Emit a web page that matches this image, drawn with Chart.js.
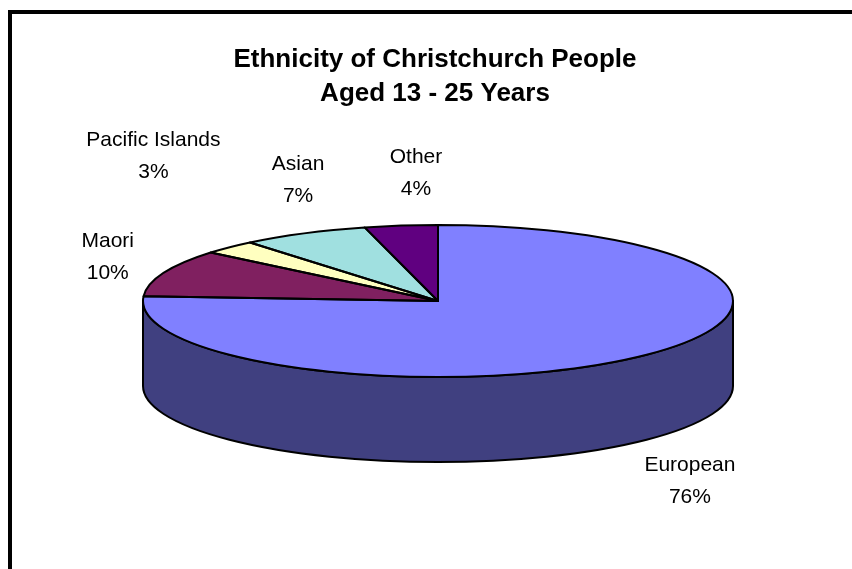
<!DOCTYPE html>
<html lang="en">
<head>
<meta charset="UTF-8">
<title>Ethnicity of Christchurch People</title>
<script src="https://cdn.jsdelivr.net/npm/chart.js"></script>
<style>
  body { margin: 0; background: #fff; }
  canvas { display: block; }
</style>
</head>
<body>
<canvas id="grafico" width="852" height="569"></canvas>
<script>
const categories = ['European', 'Maori', 'Pacific Islands', 'Asian', 'Other'];
const shares = [76, 10, 3, 7, 4];
const titleLines = ['Ethnicity of Christchurch People', 'Aged 13 - 25 Years'];

const topColors = ['#8080ff', '#802060', '#ffffc0', '#a0e0e0', '#600080'];
const sideColors = ['#404080', '#401030', '#808060', '#507070', '#300040'];

// the flat Chart.js pie is projected onto this tilted disc
const disc = { x: 438, y: 301, rx: 295, ry: 76, depth: 85 };
// label offsets from the rim point in the middle of each slice
const labelNudge = [[50, 40], [-56, -16], [-76, -91], [-6, -53], [15, -52]];

const FONT = "'Liberation Sans', Arial, sans-serif";

function project(ctx, arc) {
  ctx.translate(disc.x, disc.y);
  ctx.scale(disc.rx / arc.outerRadius, disc.ry / arc.outerRadius);
  ctx.translate(-arc.x, -arc.y);
}

const frame = {
  id: 'frame',
  beforeDraw(chart) {
    const ctx = chart.ctx;
    ctx.save();
    ctx.fillStyle = '#fff';
    ctx.fillRect(0, 0, chart.width, chart.height);
    ctx.lineWidth = 4;
    ctx.strokeStyle = '#000';
    ctx.strokeRect(10, 12, chart.width + 20, chart.height + 20);
    ctx.restore();
  }
};

const pie3d = {
  id: 'pie3d',
  beforeDatasetsDraw(chart) {
    const ctx = chart.ctx;
    const arcs = chart.getDatasetMeta(0).data;
    // side wall, only the part facing us (angles 0..PI)
    ctx.save();
    ctx.lineWidth = 2;
    ctx.strokeStyle = '#000';
    ctx.lineJoin = 'round';
    arcs.forEach((arc, i) => {
      for (let k = -1; k <= 1; k++) {
        const a1 = Math.max(arc.startAngle + k * 2 * Math.PI, 0);
        const a2 = Math.min(arc.endAngle + k * 2 * Math.PI, Math.PI);
        if (a2 <= a1) continue;
        ctx.beginPath();
        ctx.ellipse(disc.x, disc.y, disc.rx, disc.ry, 0, a1, a2);
        ctx.ellipse(disc.x, disc.y + disc.depth, disc.rx, disc.ry, 0, a2, a1, true);
        ctx.closePath();
        ctx.fillStyle = sideColors[i];
        ctx.fill();
        ctx.stroke();
      }
    });
    ctx.restore();
    ctx.save();
    project(ctx, arcs[0]);
  },
  afterDatasetsDraw(chart) {
    const ctx = chart.ctx;
    ctx.restore();
    const arcs = chart.getDatasetMeta(0).data;

    // slice outlines, stroked without the squash so lines stay even
    ctx.save();
    ctx.lineWidth = 2;
    ctx.strokeStyle = '#000';
    ctx.lineJoin = 'round';
    arcs.forEach(arc => {
      ctx.save();
      project(ctx, arc);
      ctx.beginPath();
      ctx.moveTo(arc.x, arc.y);
      ctx.arc(arc.x, arc.y, arc.outerRadius, arc.startAngle, arc.endAngle);
      ctx.closePath();
      ctx.restore();
      ctx.stroke();
    });

    // labels
    const total = shares.reduce((a, b) => a + b, 0);
    ctx.fillStyle = '#000';
    ctx.font = '21px ' + FONT;
    ctx.textAlign = 'center';
    ctx.textBaseline = 'middle';
    arcs.forEach((arc, i) => {
      const mid = (arc.startAngle + arc.endAngle) / 2;
      let x = disc.x + disc.rx * Math.cos(mid);
      let y = disc.y + disc.ry * Math.sin(mid);
      if (Math.sin(mid) > 0) y += disc.depth;
      x += labelNudge[i][0];
      y += labelNudge[i][1];
      ctx.fillText(categories[i], x, y - 16);
      ctx.fillText(Math.round(shares[i] / total * 100) + '%', x, y + 16);
    });
    ctx.restore();
  }
};

new Chart(document.getElementById('grafico'), {
  type: 'pie',
  data: {
    labels: categories,
    datasets: [{
      data: shares,
      backgroundColor: topColors,
      borderWidth: 0,
      clip: false
    }]
  },
  options: {
    responsive: false,
    animation: false,
    events: [],
    layout: { padding: { left: 18, right: 0, top: 0, bottom: 10 } },
    plugins: {
      legend: { display: false },
      tooltip: { enabled: false },
      title: {
        display: true,
        text: titleLines,
        color: '#000',
        font: { family: FONT, size: 26, weight: 'bold', lineHeight: '34px' },
        padding: { top: 43, bottom: 10 }
      }
    }
  },
  plugins: [frame, pie3d]
});
</script>
</body>
</html>
